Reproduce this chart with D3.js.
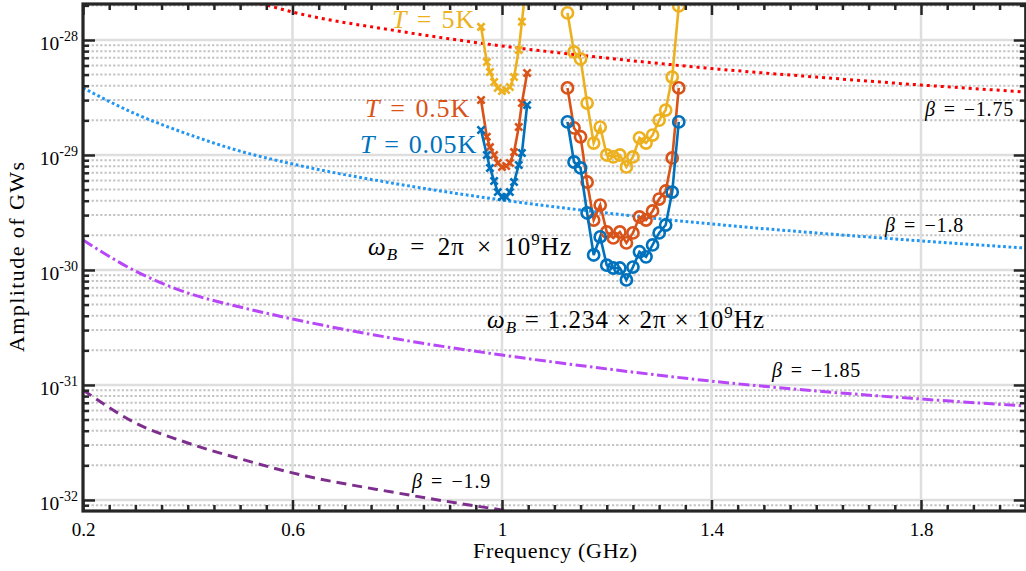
<!DOCTYPE html>
<html>
<head>
<meta charset="utf-8">
<script src="https://cdn.jsdelivr.net/npm/d3@7"></script>
<style>
  html, body { margin: 0; padding: 0; background: #fff; }
  svg { display: block; }
  text { font-family: "Liberation Serif", "Times New Roman", serif; fill: #000; }
</style>
</head>
<body>
<div id="chart"></div>
<script>
// ---------------- data ----------------
const xTickVals = [0.2, 0.6, 1.0, 1.4, 1.8];
const xTickLabels = ["0.2", "0.6", "1", "1.4", "1.8"];
const yTickVals = [1e-32, 1e-31, 1e-30, 1e-29, 1e-28];
const yTickExps = ["-32", "-31", "-30", "-29", "-28"];

// beta reference curves
const freqBeta175 = [0.50, 0.55, 0.60, 0.80, 1.00, 1.20, 1.40, 1.60, 1.80, 2.00];
const ampBeta175 = [2.28e-28, 2.01e-28, 1.75e-28, 1.20e-28, 8.87e-29, 6.97e-29, 5.65e-29, 4.76e-29, 4.06e-29, 3.53e-29];
const freqBeta = [0.2, 0.3, 0.4, 0.5, 0.6, 0.8, 1.0, 1.2, 1.4, 1.6, 1.8, 2.0];
const ampBeta180 = [3.83e-29, 2.28e-29, 1.52e-29, 1.08e-29, 8.35e-30, 5.60e-30, 4.06e-30, 3.13e-30, 2.51e-30, 2.10e-30, 1.79e-30, 1.55e-30];
const ampBeta185 = [1.82e-30, 9.80e-31, 6.31e-31, 4.76e-31, 3.75e-31, 2.51e-31, 1.82e-31, 1.38e-31, 1.08e-31, 8.87e-32, 7.55e-32, 6.56e-32];
const freqBeta190 = [0.2, 0.3, 0.4, 0.5, 0.6, 0.8, 1.0, 1.2];
const ampBeta190 = [9.06e-32, 4.68e-32, 3.13e-32, 2.28e-32, 1.72e-32, 1.15e-32, 8.19e-33, 6.18e-33];

// omega_B = 2pi x 1e9 Hz  (x markers)
const freqCross = [0.960, 0.971, 0.977, 0.985, 0.992, 1.000, 1.008, 1.015, 1.023, 1.032, 1.038, 1.048];
const ampCrossT005 = [1.65e-29, 1.00e-29, 7.71e-30, 5.94e-30, 4.76e-30, 4.31e-30, 4.31e-30, 4.76e-30, 5.82e-30, 8.19e-30, 1.04e-29, 2.72e-29];
const ampCrossT05 = [3.01e-29, 1.44e-29, 1.17e-29, 1.00e-29, 8.51e-30, 7.87e-30, 8.02e-30, 8.51e-30, 1.06e-29, 1.75e-29, 2.83e-29, 5.16e-29];
const ampCrossT5 = [1.30e-28, 6.44e-29, 5.27e-29, 4.31e-29, 3.83e-29, 3.60e-29, 3.67e-29, 3.90e-29, 4.76e-29, 8.19e-29, 1.44e-28, 3.67e-28];

// omega_B = 1.234 x 2pi x 1e9 Hz (circle markers)
const freqCircle = [1.1250, 1.1375, 1.1500, 1.1625, 1.1750, 1.1875, 1.2000, 1.2125, 1.2250, 1.2375, 1.2500, 1.2625, 1.2750, 1.2875, 1.3000, 1.3125, 1.3250, 1.3375];
const ampCircleT005 = [1.94e-29, 8.69e-30, 7.71e-30, 3.13e-30, 1.35e-30, 1.94e-30, 1.10e-30, 1.04e-30, 1.04e-30, 8.19e-31, 1.06e-30, 1.44e-30, 1.30e-30, 1.65e-30, 2.10e-30, 2.46e-30, 4.76e-30, 1.94e-29];
const ampCircleT05 = [3.83e-29, 1.72e-29, 1.44e-29, 5.82e-30, 2.72e-30, 3.67e-30, 2.14e-30, 1.90e-30, 2.14e-30, 1.72e-30, 2.10e-30, 2.89e-30, 2.72e-30, 3.26e-30, 4.14e-30, 4.86e-30, 9.42e-30, 3.83e-29];
const ampCircleT5 = [1.72e-28, 7.87e-29, 6.84e-29, 2.83e-29, 1.27e-29, 1.75e-29, 1.00e-29, 9.61e-30, 1.00e-29, 7.87e-30, 9.61e-30, 1.41e-29, 1.27e-29, 1.49e-29, 2.01e-29, 2.46e-29, 4.76e-29, 1.98e-28];

// ---------------- layout ----------------
const W = 1026, H = 571;
const L = 83, R = 1025.75, T = 4, B = 511;
const AX = "#262626";

const svg = d3.select("#chart").append("svg").attr("width", W).attr("height", H);
svg.append("rect").attr("width", W).attr("height", H).attr("fill", "#fff");

const x = d3.scaleLinear().domain([0.2, 2.0]).range([L, R]);
const y = d3.scaleLog().domain([Math.pow(10, -32.096), Math.pow(10, -27.687)]).range([B, T]);

svg.append("clipPath").attr("id", "clip").append("rect")
  .attr("x", L).attr("y", T).attr("width", R - L).attr("height", B - T);

const yMinor = [];
for (let n = -33; n <= -28; n++) for (let k = 2; k <= 9; k++) {
  const v = k * Math.pow(10, n);
  if (v > y.domain()[0] && v < y.domain()[1]) yMinor.push(v);
}
const xMinor = d3.range(0, 37).map(i => +(0.2 + 0.05 * i).toFixed(2)).filter(v => !xTickVals.some(t => Math.abs(t - v) < 1e-9));

// ---------------- grid ----------------
const grid = svg.append("g").attr("clip-path", "url(#clip)");
grid.selectAll(".ymin").data(yMinor).join("line")
  .attr("x1", L).attr("x2", R).attr("y1", d => y(d)).attr("y2", d => y(d))
  .attr("stroke", "#c4c4c4").attr("stroke-width", 2).attr("stroke-dasharray", "2.3,2");
grid.selectAll(".ymaj").data(yTickVals).join("line")
  .attr("x1", L).attr("x2", R).attr("y1", d => y(d)).attr("y2", d => y(d))
  .attr("stroke", "#dedede").attr("stroke-width", 2.5);
grid.selectAll(".xmaj").data(xTickVals).join("line")
  .attr("x1", d => x(d)).attr("x2", d => x(d)).attr("y1", T).attr("y2", B)
  .attr("stroke", "#dedede").attr("stroke-width", 2.5);

// ---------------- curves ----------------
const plot = svg.append("g").attr("clip-path", "url(#clip)");
const smooth = d3.line().x(d => x(d[0])).y(d => y(d[1])).curve(d3.curveMonotoneX);
const straight = d3.line().x(d => x(d[0])).y(d => y(d[1]));

function betaCurve(fs, vs, color, dash) {
  plot.append("path").datum(fs.map((f, i) => [f, vs[i]]))
    .attr("d", smooth).attr("fill", "none").attr("stroke", color)
    .attr("stroke-width", 3).attr("stroke-dasharray", dash);
}
betaCurve(freqBeta175, ampBeta175, "#ff0000", "3,4");
betaCurve(freqBeta, ampBeta180, "#2196f3", "2.8,2.6");
betaCurve(freqBeta, ampBeta185, "#b847f7", "11,3.5,2.5,3.5");
betaCurve(freqBeta190, ampBeta190, "#7e2f8e", "10,6");

function markerSeries(fs, vs, color, kind) {
  const pts = fs.map((f, i) => [f, vs[i]]);
  plot.append("path").datum(pts).attr("d", straight)
    .attr("fill", "none").attr("stroke", color).attr("stroke-width", 2.6);
  const g = plot.append("g");
  if (kind === "o") {
    g.selectAll("circle").data(pts).join("circle")
      .attr("cx", d => x(d[0])).attr("cy", d => y(d[1])).attr("r", 5.6)
      .attr("fill", "none").attr("stroke", color).attr("stroke-width", 2.6);
  } else {
    g.selectAll("path").data(pts).join("path")
      .attr("transform", d => `translate(${x(d[0])},${y(d[1])})`)
      .attr("d", "M-3.6,-3.6L3.6,3.6M-3.6,3.6L3.6,-3.6")
      .attr("fill", "none").attr("stroke", color).attr("stroke-width", 2.6);
  }
}
const C_BLUE = "#0072bd", C_ORANGE = "#d95319", C_YELLOW = "#edb120";
markerSeries(freqCross, ampCrossT5, C_YELLOW, "x");
markerSeries(freqCross, ampCrossT05, C_ORANGE, "x");
markerSeries(freqCross, ampCrossT005, C_BLUE, "x");
markerSeries(freqCircle, ampCircleT5, C_YELLOW, "o");
markerSeries(freqCircle, ampCircleT05, C_ORANGE, "o");
markerSeries(freqCircle, ampCircleT005, C_BLUE, "o");

// ---------------- axes ----------------
function styleAxis(g) {
  g.select(".domain").remove();
  g.selectAll(".tick line").attr("stroke", AX).attr("stroke-width", 2.5);
}
svg.append("g").attr("transform", `translate(0,${B})`)
  .call(d3.axisBottom(x).tickValues(xMinor).tickSize(-6).tickFormat("")).call(styleAxis);
const gBottom = svg.append("g").attr("transform", `translate(0,${B})`)
  .call(d3.axisBottom(x).tickValues(xTickVals).tickSize(-11)
    .tickFormat((d, i) => xTickLabels[i])).call(styleAxis);
gBottom.selectAll(".tick text").attr("y", 25).attr("dy", 0)
  .attr("font-size", 19).attr("font-family", "Liberation Serif").attr("fill", "#000");
svg.append("g").attr("transform", `translate(0,${T})`)
  .call(d3.axisTop(x).tickValues(xMinor).tickSize(-6).tickFormat("")).call(styleAxis);
svg.append("g").attr("transform", `translate(0,${T})`)
  .call(d3.axisTop(x).tickValues(xTickVals).tickSize(-11).tickFormat("")).call(styleAxis);
svg.append("g").attr("transform", `translate(${L},0)`)
  .call(d3.axisLeft(y).tickValues(yMinor).tickSize(-6).tickFormat("")).call(styleAxis);
const gLeft = svg.append("g").attr("transform", `translate(${L},0)`)
  .call(d3.axisLeft(y).tickValues(yTickVals).tickSize(-12).tickFormat("")).call(styleAxis);
gLeft.selectAll(".tick text").each(function (d, i) {
  const t = d3.select(this).attr("x", -5).attr("y", 10).attr("dy", 0)
    .attr("text-anchor", "end").attr("font-size", 19.5).attr("fill", "#000");
  t.text(null);
  t.append("tspan").text("10");
  t.append("tspan").attr("dy", -9).attr("font-size", 14).text(yTickExps[i]);
});
svg.append("g").attr("transform", `translate(${R},0)`)
  .call(d3.axisRight(y).tickValues(yMinor).tickSize(-6).tickFormat("")).call(styleAxis);
svg.append("g").attr("transform", `translate(${R},0)`)
  .call(d3.axisRight(y).tickValues(yTickVals).tickSize(-12).tickFormat("")).call(styleAxis);

svg.append("rect").attr("x", L).attr("y", T).attr("width", R - L).attr("height", B - T)
  .attr("fill", "none").attr("stroke", AX).attr("stroke-width", 3.2);

// ---------------- text helpers ----------------
function spreadText(sel, target) {
  const node = sel.node();
  const w = node.getComputedTextLength();
  const n = node.textContent.length;
  if (n > 1) sel.attr("letter-spacing", (target - w) / (n - 1));
}
// parts: {t, italic, op, size, dy}; ls = base letter spacing, remainder goes round operators
function mathText(x0, yb, size, parts, target, ls, color) {
  const t = svg.append("text").attr("x", x0).attr("y", yb).attr("font-size", size)
    .attr("letter-spacing", ls);
  if (color) t.attr("fill", color).style("fill", color);
  const spans = parts.map(p => {
    const s = t.append("tspan").text(p.t);
    if (p.italic) s.attr("font-style", "italic");
    if (p.size) s.attr("font-size", p.size);
    if (p.dy) s.attr("dy", p.dy);
    return s;
  });
  const bb = t.node().getBBox();
  const w = bb.width;
  const nOps = parts.filter(p => p.op).length;
  if (nOps > 0) {
    const gap = Math.max(0, (target - w) / (2 * nOps));
    parts.forEach((p, i) => {
      if (p.op) {
        spans[i].attr("dx", gap);
        if (spans[i + 1]) spans[i + 1].attr("dx", gap);
      }
    });
  }
  return t;
}

// axis titles
spreadText(svg.append("text").attr("x", 473).attr("y", 558)
  .attr("font-size", 22).text("Frequency (GHz)"), 164);
spreadText(svg.append("text").attr("transform", "translate(24,352) rotate(-90)")
  .attr("font-size", 22).text("Amplitude of GWs"), 190);

// temperature labels
mathText(392, 28, 26, [{ t: "T", italic: true }, { t: " = ", op: true }, { t: "5K" }], 83, 0.8, C_YELLOW);
mathText(365, 117, 26, [{ t: "T", italic: true }, { t: " = ", op: true }, { t: "0.5K" }], 105, 0.8, C_ORANGE);
mathText(360, 153, 26, [{ t: "T", italic: true }, { t: " = ", op: true }, { t: "0.05K" }], 117, 0.8, C_BLUE);

// omega labels
mathText(368, 255, 25, [
  { t: "ω", italic: true }, { t: "B", italic: true, size: 17, dy: 5 },
  { t: " = ", op: true, dy: -5 }, { t: "2π" }, { t: " × ", op: true }, { t: "10" },
  { t: "9", size: 17, dy: -10 }, { t: "Hz", dy: 10 }], 204, 1.0);
mathText(487, 328, 25, [
  { t: "ω", italic: true }, { t: "B", italic: true, size: 17, dy: 5 },
  { t: " = ", op: true, dy: -5 }, { t: "1.234" }, { t: " × ", op: true }, { t: "2π" },
  { t: " × ", op: true }, { t: "10" },
  { t: "9", size: 17, dy: -10 }, { t: "Hz", dy: 10 }], 278, 1.0);

// beta labels
function betaLabel(x0, yb, val, target) {
  mathText(x0, yb, 20, [{ t: "β", italic: true }, { t: " = ", op: true }, { t: "−" }, { t: val }], target, 0.8);
}
betaLabel(925, 116, "1.75", 90);
betaLabel(885, 232, "1.8", 80);
betaLabel(772, 377, "1.85", 90);
betaLabel(412, 488, "1.9", 80);
</script>
</body>
</html>
